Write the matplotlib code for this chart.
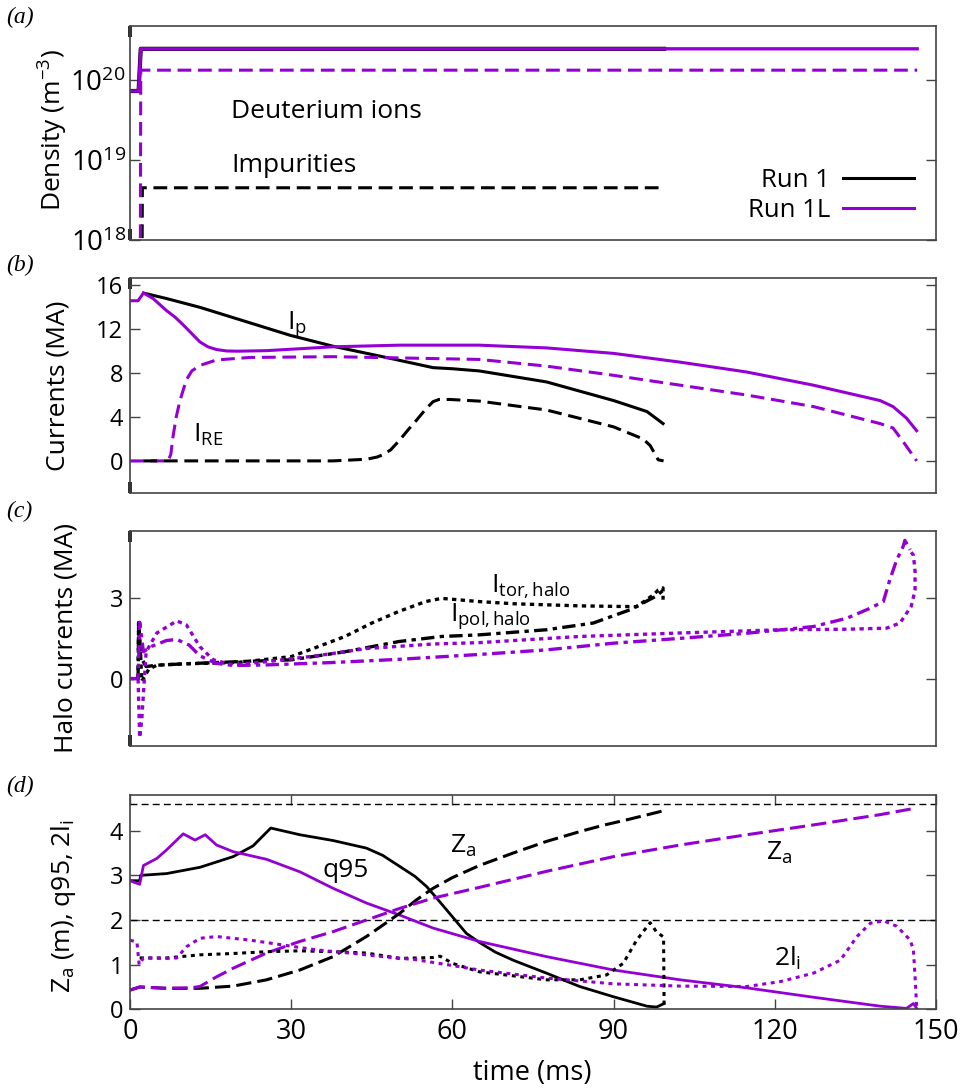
import matplotlib
matplotlib.use("Agg")
import matplotlib.pyplot as plt
from matplotlib.lines import Line2D
from matplotlib.ticker import FixedFormatter

plt.rcParams['font.family'] = ['Open Sans', 'DejaVu Sans']
plt.rcParams['mathtext.fontset'] = 'custom'
plt.rcParams['mathtext.rm'] = 'Open Sans'
plt.rcParams['mathtext.it'] = 'Open Sans:italic'
plt.rcParams['mathtext.bf'] = 'Open Sans:bold'

PURPLE = '#9400D3'
BLACK = '#000000'

# ---------------- Panel (a): densities ----------------
a_r1_ion_t = [0, 1.6, 2.0, 99.4]
a_r1_ion_n = [7.3e19, 7.3e19, 2.46e20, 2.46e20]
a_r1l_ion_t = [0, 1.6, 2.0, 146.5]
a_r1l_ion_n = [7.3e19, 7.3e19, 2.46e20, 2.46e20]
a_r1_imp_t = [2.2, 2.3, 99.4]
a_r1_imp_n = [1e17, 4.5e18, 4.5e18]
a_r1l_imp_t = [1.9, 2.0, 146.5]
a_r1l_imp_n = [1e17, 1.33e20, 1.33e20]
a_ticks = [1e18, 1e19, 1e20]
a_tick_labels = [r'$10^{18}$', r'$10^{19}$', r'$10^{20}$']

# ---------------- Panel (b): currents ----------------
b_r1_ip_t = [2.5, 6.8, 13, 29.8, 37.8, 47, 56.4, 60, 65, 77.5, 90, 96.2, 99.2]
b_r1_ip_v = [15.3, 14.8, 14.0, 11.45, 10.45, 9.5, 8.5, 8.4, 8.2, 7.2, 5.5, 4.5, 3.4]
b_r1l_ip_t = [0, 1.5, 2.5, 4.3, 6.8, 8.4, 9.9, 11.5, 13, 14.5, 16.1, 18, 20, 25.4, 37.8, 50.2, 65,
              77.5, 90, 102.4, 114.8, 127.2, 139.6, 142, 144.5, 146.4]
b_r1l_ip_v = [14.6, 14.6, 15.3, 14.8, 13.7, 13.1, 12.4, 11.6, 10.85, 10.4, 10.15, 10.02, 10.0,
              10.05, 10.4, 10.55, 10.55, 10.3, 9.8, 9.0, 8.1, 6.9, 5.5, 4.95, 3.9, 2.75]
b_r1l_re_t = [0, 7.1, 7.6, 8.0, 8.6, 9.3, 10.5, 11.5, 13, 16.1, 22.3, 37.8, 65, 77.5, 90,
              102.4, 114.8, 127.2, 139.6, 142, 143.9, 146.4]
b_r1l_re_v = [0, 0, 0.6, 2.2, 4.0, 5.5, 7.4, 8.2, 8.7, 9.2, 9.43, 9.5, 9.25, 8.64, 7.8,
              6.9, 6.0, 4.95, 3.4, 3.0, 1.75, 0.0]
b_r1_re_t = [2.5, 37.8, 44, 46, 47, 48.5, 50.2, 51.7, 53.3, 55, 56.4, 57.5, 59.5, 65, 77.5, 90,
             93, 95.5, 96.8, 97.5, 98.3, 99.3]
b_r1_re_v = [0, 0, 0.15, 0.35, 0.55, 1.0, 1.9, 2.8, 3.7, 4.7, 5.4, 5.6, 5.6, 5.45, 4.64, 3.1,
             2.5, 2.0, 1.4, 0.8, 0.1, 0.0]

# ---------------- Panel (c): halo currents ----------------
c_r1_tor_t = [1.5, 1.6, 1.9, 2.2, 3.5, 5, 10, 20, 30, 35, 40, 45, 50, 55, 58, 65, 71.3, 83.7,
              94.3, 97.4, 98.3, 99.2, 99.2]
c_r1_tor_v = [0, 2.2, 1.2, -0.1, 0.35, 0.5, 0.55, 0.6, 0.82, 1.19, 1.57, 2.07, 2.5, 2.87, 2.99,
              2.87, 2.79, 2.71, 2.68, 3.12, 3.3, 3.38, 2.94]
c_r1_pol_t = [1.5, 1.6, 2.0, 3, 5, 10, 20, 30, 40, 50, 58, 65, 77.5, 86.2, 93, 97.8, 99.3]
c_r1_pol_v = [0, 1.9, 0.8, 0.45, 0.5, 0.55, 0.63, 0.70, 1.0, 1.38, 1.57, 1.63, 1.82, 2.07, 2.56,
              3.06, 3.3]
c_r1l_tor_t = [0, 1.5, 1.8, 2.2, 3.0, 5.0, 8.7, 10.5, 13, 15.5, 19.2, 25.4, 34.7, 44, 56.4, 65,
               83.7, 102.4, 121, 133.4, 140.8, 143.3, 145.4, 146.1, 146.1, 145.8, 145.2]
c_r1l_tor_v = [0, 0, -2.2, -1.5, 1.0, 1.7, 2.15, 2.0, 1.19, 0.7, 0.51, 0.63, 0.85, 1.12, 1.29, 1.34,
               1.57, 1.7, 1.82, 1.84, 1.88, 2.07, 2.7, 3.3, 4.0, 4.6, 4.75]
c_r1l_pol_t = [0, 1.5, 1.8, 2.5, 4, 6.8, 8.7, 11, 13, 16, 19.2, 25.4, 37.8, 50.2, 65, 77.5, 90,
               102.4, 114.8, 127.2, 133.4, 137.5, 140.2, 141.4, 142.7, 143.9, 144.2, 145.2]
c_r1l_pol_v = [0, 0, 2.1, 1.0, 1.2, 1.42, 1.46, 1.25, 0.85, 0.57, 0.49, 0.51, 0.6, 0.72, 0.9, 1.07,
               1.32, 1.5, 1.69, 1.94, 2.25, 2.6, 2.87, 3.68, 4.43, 4.93, 5.15, 4.8]

# ---------------- Panel (d): Za, q95, 2li ----------------
d_r1_q_t = [0, 1.8, 2.0, 6.8, 13, 19.2, 22.9, 26.2, 31.6, 37.8, 44, 47, 50.2, 53, 55.2, 57, 58.9,
            62.6, 65, 68, 71.3, 77.5, 83.7, 90, 96.2, 98, 99.4]
d_r1_q_v = [2.88, 2.88, 3.0, 3.04, 3.18, 3.42, 3.66, 4.06, 3.91, 3.78, 3.61, 3.45, 3.2, 2.98, 2.75,
            2.5, 2.23, 1.70, 1.50, 1.28, 1.1, 0.81, 0.51, 0.28, 0.07, 0.05, 0.13]
d_r1l_q_t = [0, 1.8, 2.5, 5, 6.8, 9.9, 12.1, 14, 16.1, 19.2, 25.4, 31.6, 37.8, 44, 50.2, 56.4, 65,
             77.5, 90, 102.4, 114.8, 127.2, 139.6, 144.5, 145.8, 146.4]
d_r1l_q_v = [2.88, 2.8, 3.22, 3.38, 3.57, 3.93, 3.79, 3.91, 3.68, 3.53, 3.36, 3.08, 2.71, 2.38,
             2.11, 1.82, 1.52, 1.18, 0.88, 0.66, 0.48, 0.27, 0.07, 0.02, 0.13, 0.02]
d_r1_za_t = [0, 1.8, 6.8, 13, 19.2, 25.4, 31.6, 37.8, 44, 47, 50.2, 53.3, 56.4, 60, 65, 71.3, 77.5,
             83.7, 88, 93, 99.4]
d_r1_za_v = [0.43, 0.5, 0.47, 0.47, 0.52, 0.66, 0.88, 1.18, 1.63, 1.88, 2.15, 2.45, 2.71, 2.95,
             3.22, 3.5, 3.76, 3.98, 4.12, 4.26, 4.45]
d_r1l_za_t = [0, 1.8, 6.8, 11.2, 13, 16, 19.2, 25.4, 31.6, 37.8, 44, 50.2, 56.4, 65, 77.5, 90,
              102.4, 114.8, 127.2, 139.6, 146.4]
d_r1l_za_v = [0.43, 0.5, 0.47, 0.48, 0.51, 0.72, 0.92, 1.26, 1.52, 1.74, 2.0, 2.26, 2.49, 2.73,
              3.09, 3.42, 3.68, 3.91, 4.13, 4.36, 4.51]
d_r1_li_t = [1.8, 6.8, 13, 19.2, 25.4, 31.6, 37.8, 44, 50.2, 56.4, 57.7, 60, 65, 71.3, 77.5, 83.7,
             88.7, 91.8, 94.3, 96.8, 98, 99.3, 99.4]
d_r1_li_v = [1.15, 1.15, 1.22, 1.25, 1.29, 1.31, 1.29, 1.26, 1.14, 1.16, 1.19, 1.03, 0.84, 0.75,
             0.66, 0.66, 0.77, 1.03, 1.55, 1.94, 1.73, 1.62, 0.05]
d_r1l_li_t = [0, 1.3, 1.7, 2.5, 6.8, 8.7, 10.5, 13, 16.1, 22.3, 28.5, 34.7, 40.9, 47, 53.3, 59.5,
              65, 77.5, 90, 102.4, 114.8, 121, 127.2, 132.2, 135.3, 137.8, 140.3, 142.7, 145.2,
              145.8, 146.1, 146.4]
d_r1l_li_v = [1.55, 1.5, 1.0, 1.15, 1.14, 1.15, 1.4, 1.59, 1.63, 1.55, 1.44, 1.33, 1.26, 1.18,
              1.11, 0.99, 0.88, 0.7, 0.57, 0.52, 0.51, 0.62, 0.81, 1.1, 1.63, 1.93, 1.98, 1.86,
              1.55, 1.33, 0.73, 0.05]
d_ref_levels = [4.6, 2.0]

x_ticks = [0, 30, 60, 90, 120, 150]

# ---------------- Figure ----------------
W, H = 969, 1088
fig = plt.figure(figsize=(W / 100, H / 100), dpi=100)


def fx(x):
    return x / W


def fy(y):
    return 1 - y / H


def make_ax(top, bottom):
    ax = fig.add_axes([fx(130), fy(bottom), fx(936) - fx(130), fy(top) - fy(bottom)])
    for s in ax.spines.values():
        s.set_color('#444444')
        s.set_linewidth(1.2)
    ax.set_xlim(0, 150)
    ax.tick_params(axis='y', direction='in', length=7, width=1, color='#444444',
                   left=True, right=True, labelsize=17, pad=5)
    return ax


LW = 2.2
DASH = (0, (4.5, 2.2))
DOT = (0, (1.3, 1.3))
DASHDOT = (0, (4.0, 1.6, 1.3, 1.6))

# Panel (a)
ax_a = make_ax(25.7, 240)
ax_a.set_yscale('log')
ax_a.set_ylim(1e18, 10 ** 20.68)
ax_a.set_yticks(a_ticks)
ax_a.yaxis.set_major_formatter(FixedFormatter(a_tick_labels))
ax_a.minorticks_off()
ax_a.tick_params(axis='y', labelsize=20, pad=3)
ax_a.plot(a_r1_ion_t, a_r1_ion_n, color=BLACK, lw=3.0)
ax_a.plot(a_r1l_ion_t, a_r1l_ion_n, color=PURPLE, lw=2.4)
ax_a.plot(a_r1_imp_t, a_r1_imp_n, color=BLACK, lw=LW, ls=DASH)
ax_a.plot(a_r1l_imp_t, a_r1l_imp_n, color=PURPLE, lw=LW, ls=DASH)
handles = [Line2D([], [], color=BLACK, lw=LW), Line2D([], [], color=PURPLE, lw=LW)]
ax_a.legend(handles, ['Run 1', 'Run 1L'], loc='lower right', frameon=False,
            markerfirst=False, fontsize=18.5, handlelength=2.75, handletextpad=0.5,
            labelspacing=0.2, bbox_to_anchor=(0.985, 0.03), borderaxespad=0)

# Panel (b)
ax_b = make_ax(277.7, 492.7)
ax_b.set_ylim(-2.9, 16.7)
ax_b.set_yticks([0, 4, 8, 12, 16])
ax_b.plot(b_r1_ip_t, b_r1_ip_v, color=BLACK, lw=LW)
ax_b.plot(b_r1l_ip_t, b_r1l_ip_v, color=PURPLE, lw=LW)
ax_b.plot(b_r1l_re_t, b_r1l_re_v, color=PURPLE, lw=LW, ls=DASH)
ax_b.plot(b_r1_re_t, b_r1_re_v, color=BLACK, lw=LW, ls=DASH)

# Panel (c)
ax_c = make_ax(531, 745.7)
ax_c.set_ylim(-2.5, 5.5)
ax_c.set_yticks([0, 3])
ax_c.plot(c_r1_tor_t, c_r1_tor_v, color=BLACK, lw=2.4, ls=DOT)
ax_c.plot(c_r1_pol_t, c_r1_pol_v, color=BLACK, lw=2.4, ls=DASHDOT)
ax_c.plot(c_r1l_tor_t, c_r1l_tor_v, color=PURPLE, lw=2.4, ls=DOT)
ax_c.plot(c_r1l_pol_t, c_r1l_pol_v, color=PURPLE, lw=2.4, ls=DASHDOT)

# Panel (d)
ax_d = make_ax(795, 1009.3)
ax_d.set_ylim(0, 4.8)
ax_d.set_yticks([0, 1, 2, 3, 4])
for lev in d_ref_levels:
    ax_d.axhline(lev, color=BLACK, lw=1.0, ls=(0, (5, 3)))
ax_d.plot(d_r1_q_t, d_r1_q_v, color=BLACK, lw=2.0)
ax_d.plot(d_r1l_q_t, d_r1l_q_v, color=PURPLE, lw=2.0)
ax_d.plot(d_r1_za_t, d_r1_za_v, color=BLACK, lw=LW, ls=(0, (5, 2)))
ax_d.plot(d_r1l_za_t, d_r1l_za_v, color=PURPLE, lw=LW, ls=(0, (5, 2)))
ax_d.plot(d_r1_li_t, d_r1_li_v, color=BLACK, lw=LW, ls=(0, (1.3, 1.5)))
ax_d.plot(d_r1l_li_t, d_r1l_li_v, color=PURPLE, lw=LW, ls=(0, (1.3, 1.5)))
ax_d.set_xticks(x_ticks)
ax_d.tick_params(axis='x', direction='in', length=7, width=1, color='#444444',
                 top=True, bottom=True, labelsize=19.5, pad=6)

for ax in (ax_a, ax_b, ax_c):
    ax.set_xticks([0])
    ax.tick_params(axis='x', direction='in', length=8, width=2.6, color=BLACK,
                   top=True, bottom=True, labelbottom=False)

# y labels
ylab_kw = dict(rotation=90, ha='center', va='center', fontsize=19)
fig.text(fx(53), fy(130), r'Density (m$^{-3}$)', **ylab_kw)
fig.text(fx(58), fy(386), 'Currents (MA)', **ylab_kw)
fig.text(fx(66), fy(638), 'Halo currents (MA)', **ylab_kw)
fig.text(fx(63), fy(906), r'Z$_\mathrm{a}$ (m), q95, 2l$_\mathrm{i}$', **ylab_kw)

# x label
fig.text(fx(532), fy(1080), 'time (ms)', ha='center', va='baseline', fontsize=19.5)

# panel labels
pl_kw = dict(ha='left', va='center', fontsize=17, family='Liberation Serif', style='italic')
fig.text(fx(6), fy(17), '(a)', **pl_kw)
fig.text(fx(6), fy(265), '(b)', **pl_kw)
fig.text(fx(6), fy(511), '(c)', **pl_kw)
fig.text(fx(6), fy(786), '(d)', **pl_kw)

# annotations
an_kw = dict(ha='left', va='baseline', fontsize=19)
fig.text(fx(231), fy(118), 'Deuterium ions', **an_kw)
fig.text(fx(231), fy(171.5), 'Impurities', **an_kw)
fig.text(fx(287), fy(329), r'I$_\mathrm{p}$', **an_kw)
fig.text(fx(193), fy(442), r'I$_\mathrm{RE}$', **an_kw)
fig.text(fx(491), fy(593), r'I$_\mathrm{tor,halo}$', **an_kw)
fig.text(fx(450), fy(621), r'I$_\mathrm{pol,halo}$', **an_kw)
fig.text(fx(322), fy(877), 'q95', **an_kw)
fig.text(fx(450), fy(853), r'Z$_\mathrm{a}$', **an_kw)
fig.text(fx(766), fy(860), r'Z$_\mathrm{a}$', **an_kw)
fig.text(fx(774), fy(966), r'2l$_\mathrm{i}$', **an_kw)

fig.savefig('out.png', dpi=100)
